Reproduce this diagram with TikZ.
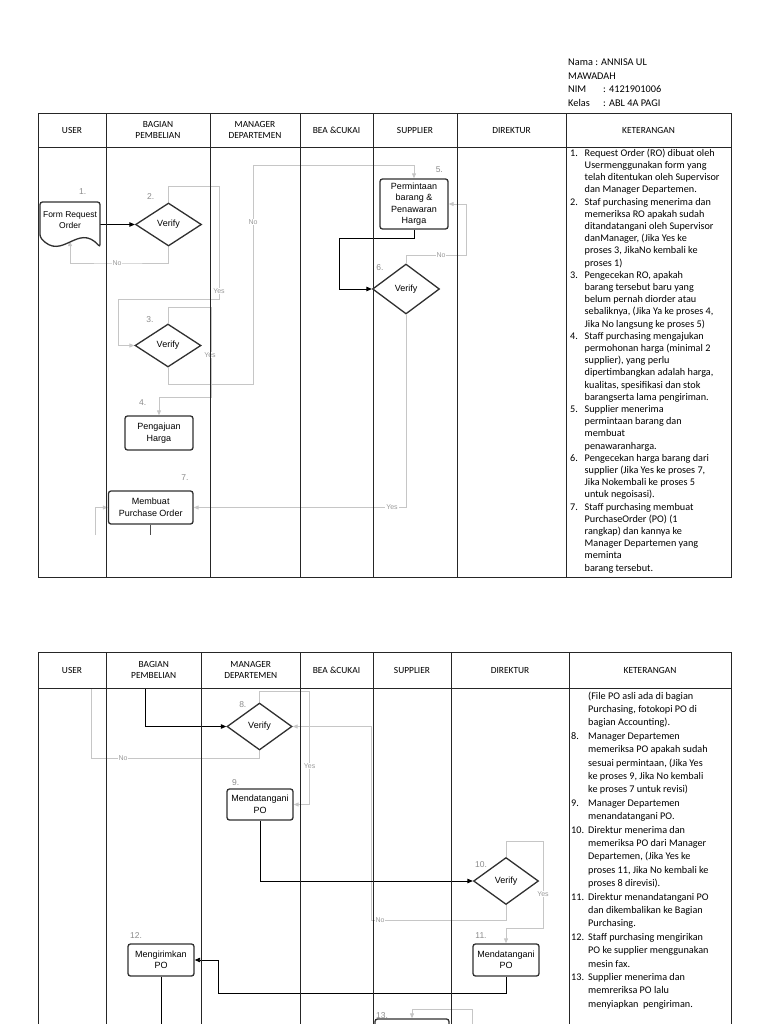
\documentclass[tikz,border=0pt]{standalone}
\usepackage{fontspec}
\setmainfont{Carlito}
\newfontfamily\flowfont{Liberation Sans}
\usetikzlibrary{arrows.meta,shapes.geometric}
\definecolor{lgray}{HTML}{C6C6C6}
\definecolor{numgray}{HTML}{8A8A8A}
\definecolor{labgray}{HTML}{9A9A9A}
\definecolor{dk}{HTML}{303030}
\pgfdeclarelayer{conn}
\pgfdeclarelayer{tab}
\pgfsetlayers{conn,tab,main}
\begin{document}
\begin{tikzpicture}[x=1pt,y=-1pt,
  tabline/.style={draw=black!85,line width=1pt},
  hdr/.style={font=\fontsize{9.4}{10.2}\selectfont,align=center,inner sep=0pt},
  hdrone/.style={font=\fontsize{9.4}{10.2}\selectfont,anchor=base,inner sep=0pt},
  procbox/.style={draw=dk,line width=1.3pt,rounded corners=2.5pt,fill=white,align=center,
     font=\flowfont\fontsize{9}{11.5}\selectfont,inner sep=0pt},
  decbox/.style={diamond,draw=dk,line width=1.3pt,fill=white,
     font=\flowfont\fontsize{9}{11}\selectfont,inner sep=0pt},
  docline/.style={draw=dk,line width=1.3pt,fill=white},
  numlab/.style={font=\flowfont\fontsize{8.5}{10}\selectfont,text=numgray,inner sep=0pt},
  blkarrow/.style={draw=black,line width=0.9pt,-{Triangle[length=5.5pt,width=4.5pt]}},
  blkline/.style={draw=black!70,line width=0.9pt},
  gryarrow/.style={draw=lgray,line width=0.9pt,-{Triangle[length=5pt,width=4pt]}},
  gryline/.style={draw=lgray,line width=0.9pt},
  edgelab/.style={font=\flowfont\fontsize{7}{8}\selectfont,text=labgray,fill=white,inner sep=0.8pt},
  kettext/.style={anchor=base west,inner sep=0pt}
]
\useasboundingbox (0,0) rectangle (768,1024);
\clip (0,0) rectangle (768,1024);

% ---------- header info ----------
\node[kettext] (nama) at (568,66) {\fontsize{10.3}{13.4}\selectfont
  \begin{tabular}[t]{@{}p{35pt}@{}l@{}}
  \multicolumn{2}{@{}l@{}}{Nama : ANNISA UL}\\
  \multicolumn{2}{@{}l@{}}{MAWADAH}\\
  NIM & : 4121901006\\
  Kelas & : ABL 4A PAGI
  \end{tabular}};

% ---------- table 1 shapes ----------
\draw[docline,rounded corners=2.5pt] (40,237) -- (40,202) -- (100,202) -- (100,247)
  .. controls (78,222) and (62,262) .. (40,237) -- cycle;
\node[inner sep=0pt,minimum width=60pt,minimum height=41pt,align=center,
  font=\flowfont\fontsize{8.5}{11}\selectfont] (doc) at (70,220.5) {Form Request\\Order};
\node[decbox,minimum width=66pt,minimum height=43pt] (d2) at (168.5,224.5) {Verify};
\node[decbox,minimum width=66pt,minimum height=43pt] (d3) at (168,345.5) {Verify};
\node[procbox,minimum width=68pt,minimum height=34pt] (b4) at (159,433) {Pengajuan\\Harga};
\node[procbox,minimum width=68pt,minimum height=50pt] (b5) at (414,204) {Permintaan\\barang \&\\Penawaran\\Harga};
\node[decbox,minimum width=67pt,minimum height=50pt] (d6) at (406,289) {Verify};
\node[procbox,minimum width=84.5pt,minimum height=33pt] (b7) at (150.75,507.5) {Membuat\\Purchase Order};

% ---------- table 2 shapes ----------
\node[decbox,minimum width=65pt,minimum height=47pt] (d8) at (259.5,726.5) {Verify};
\node[procbox,minimum width=66pt,minimum height=31pt] (b9) at (260,804.5) {Mendatangani\\PO};
\node[decbox,minimum width=65pt,minimum height=47pt] (d10) at (506,881) {Verify};
\node[procbox,minimum width=66pt,minimum height=32pt] (b11) at (506,960) {Mendatangani\\PO};
\node[procbox,minimum width=66pt,minimum height=32pt] (b12) at (161,960) {Mengirimkan\\PO};
\node[procbox,minimum width=74pt,minimum height=42pt] (b13) at (412,1040) {};

% ---------- step numbers ----------
\node[numlab] (n1) at (82.7,191.5) {1.};
\node[numlab] (n2) at (150.7,196.7) {2.};
\node[numlab] (n3) at (150,319.3) {3.};
\node[numlab] (n4) at (142.7,402.7) {4.};
\node[numlab] (n5) at (439.3,170) {5.};
\node[numlab] (n6) at (380,267.3) {6.};
\node[numlab] (n7) at (185,477.5) {7.};
\node[numlab] (n8) at (242.8,705) {8.};
\node[numlab] (n9) at (235.6,782.6) {9.};
\node[numlab] (n10) at (481,864.4) {10.};
\node[numlab] (n11) at (481,936) {11.};
\node[numlab] (n12) at (136,936) {12.};
\node[numlab] (n13) at (382,1016) {13.};

% ---------- free ends ----------
\coordinate (c7b) at (150.75,535);
\coordinate (c7l) at (95.5,535);
\coordinate (t2in) at (145.4,688);
\coordinate (t2no) at (91.3,688);
\coordinate (c12b) at (161,1030);
\coordinate (c13) at (472.5,1030);

% ---------- connectors ----------
\begin{pgfonlayer}{conn}
\draw[blkarrow] (d2.west -| doc.east) -- (d2.west);
\draw[gryarrow] (d2.south) |- (117,263) -| (doc.south);
\draw[gryarrow] (d2.north) |- (219,186) |- (118,299) |- (d3.west);
\draw[gryarrow] (d3.south) |- (253,384) |- (414,165) -- (b5.north);
\draw[gryarrow] (d3.north) |- (211,307) |- (159,397) -- (b4.north);
\draw[blkarrow] (b5.south) |- (339,238) |- (d6.west);
\draw[gryarrow] (d6.north) |- (466,255) |- (b5.east);
\draw[gryarrow] (d6.south) |- (b7.east);
\draw[blkline] (b7.south) -- (c7b);
\draw[gryarrow] (c7l) |- (b7.west);

\draw[blkarrow] (t2in) |- (d8.west);
\draw[gryline] (d8.south) |- (91.3,758.5) -- (t2no);
\draw[gryarrow] (d8.north) |- (309.6,691) |- (b9.east);
\draw[gryarrow] (d10.south) |- (371,920) |- (d8.east);
\draw[blkarrow] (b9.south) |- (d10.west);
\draw[gryarrow] (d10.north) |- (543,841) |- (506,928) -- (b11.north);
\draw[blkarrow] (b11.south) |- (218.7,993) |- (b12.east);
\draw[blkline,draw=black] (b12.south) -- (c12b);
\draw[gryarrow] (c13) |- (412,1009) -- (b13.north);

\node[edgelab] (l2n) at (117,263) {No};
\node[edgelab] (l2y) at (219,291) {Yes};
\node[edgelab] (l3n) at (253,222) {No};
\node[edgelab] (l3y) at (210,355) {Yes};
\node[edgelab] (l6n) at (441,255) {No};
\node[edgelab] (l6y) at (392,507.5) {Yes};
\node[edgelab] (l8n) at (123,758.5) {No};
\node[edgelab] (l8y) at (309.6,766) {Yes};
\node[edgelab] (l10n) at (380,920) {No};
\node[edgelab] (l10y) at (543,894) {Yes};
\end{pgfonlayer}

% ---------- tables ----------
\begin{pgfonlayer}{tab}
\draw[tabline] (38,114) rectangle (731,577);
\draw[tabline] (38,148) -- (731,148);
\foreach \x in {106,210,300,373,457,566} \draw[tabline] (\x,114) -- (\x,577);
\draw[tabline] (38,1030) -- (38,652) -- (731,652) -- (731,1030);
\draw[tabline] (38,688) -- (731,688);
\foreach \x in {106,201.5,300,373,451,569} \draw[tabline] (\x,652) -- (\x,1030);
\end{pgfonlayer}

% ---------- headers ----------
\node[hdrone] (h1a) at (72,133.2) {USER};
\node[hdr] (h1b) at (158,130) {BAGIAN\\PEMBELIAN};
\node[hdr] (h1c) at (255,130) {MANAGER\\DEPARTEMEN};
\node[hdrone] (h1d) at (336.5,133.2) {BEA \&CUKAI};
\node[hdrone] (h1e) at (415,133.2) {SUPPLIER};
\node[hdrone] (h1f) at (511.5,133.2) {DIREKTUR};
\node[hdrone] (h1g) at (648.5,133.2) {KETERANGAN};

\node[hdrone] (h2a) at (72,673.2) {USER};
\node[hdr] (h2b) at (153.75,670) {BAGIAN\\PEMBELIAN};
\node[hdr] (h2c) at (250.75,670) {MANAGER\\DEPARTEMEN};
\node[hdrone] (h2d) at (336.5,673.2) {BEA \&CUKAI};
\node[hdrone] (h2e) at (412,673.2) {SUPPLIER};
\node[hdrone] (h2f) at (510,673.2) {DIREKTUR};
\node[hdrone] (h2g) at (650,673.2) {KETERANGAN};

% ---------- keterangan ----------
\node[kettext] (ket1) at (570,156.3) {\fontsize{10.2}{12.2}\selectfont
  \begin{tabular}[t]{@{}p{14.5pt}@{}l@{}}
  1. & Request Order (RO) dibuat oleh\\
     & Usermenggunakan form yang\\
     & telah ditentukan oleh Supervisor\\
     & dan Manager Departemen.\\
  2. & Staf purchasing menerima dan\\
     & memeriksa RO apakah sudah\\
     & ditandatangani oleh Supervisor\\
     & danManager, (Jika Yes ke\\
     & proses 3, JikaNo kembali ke\\
     & proses 1)\\
  3. & Pengecekan RO, apakah\\
     & barang tersebut baru yang\\
     & belum pernah diorder atau\\
     & sebaliknya, (Jika Ya ke proses 4,\\
     & Jika No langsung ke proses 5)\\
  4. & Staff purchasing mengajukan\\
     & permohonan harga (minimal 2\\
     & supplier), yang perlu\\
     & dipertimbangkan adalah harga,\\
     & kualitas, spesifikasi dan stok\\
     & barangserta lama pengiriman.\\
  5. & Supplier menerima\\
     & permintaan barang dan\\
     & membuat\\
     & penawaranharga.\\
  6. & Pengecekan harga barang dari\\
     & supplier (Jika Yes ke proses 7,\\
     & Jika Nokembali ke proses 5\\
     & untuk negoisasi).\\
  7. & Staff purchasing membuat\\
     & PurchaseOrder (PO) (1\\
     & rangkap) dan kannya ke\\
     & Manager Departemen yang\\
     & meminta\\
     & barang tersebut.
  \end{tabular}};

\node[kettext] (ket2) at (571,699) {\fontsize{10.2}{13.4}\selectfont
  \begin{tabular}[t]{@{}p{17pt}@{}l@{}}
      & (File PO asli ada di bagian\\
      & Purchasing, fotokopi PO di\\
      & bagian Accounting).\\
  8.  & Manager Departemen\\
      & memeriksa PO apakah sudah\\
      & sesuai permintaan, (Jika Yes\\
      & ke proses 9, Jika No kembali\\
      & ke proses 7 untuk revisi)\\
  9.  & Manager Departemen\\
      & menandatangani PO.\\
  10. & Direktur menerima dan\\
      & memeriksa PO dari Manager\\
      & Departemen, (Jika Yes ke\\
      & proses 11, Jika No kembali ke\\
      & proses 8 direvisi).\\
  11. & Direktur menandatangani PO\\
      & dan dikembalikan ke Bagian\\
      & Purchasing.\\
  12. & Staff purchasing mengirikan\\
      & PO ke supplier menggunakan\\
      & mesin fax.\\
  13. & Supplier menerima dan\\
      & memreriksa PO lalu\\
      & menyiapkan\ \ pengiriman.
  \end{tabular}};
\end{tikzpicture}
\end{document}
